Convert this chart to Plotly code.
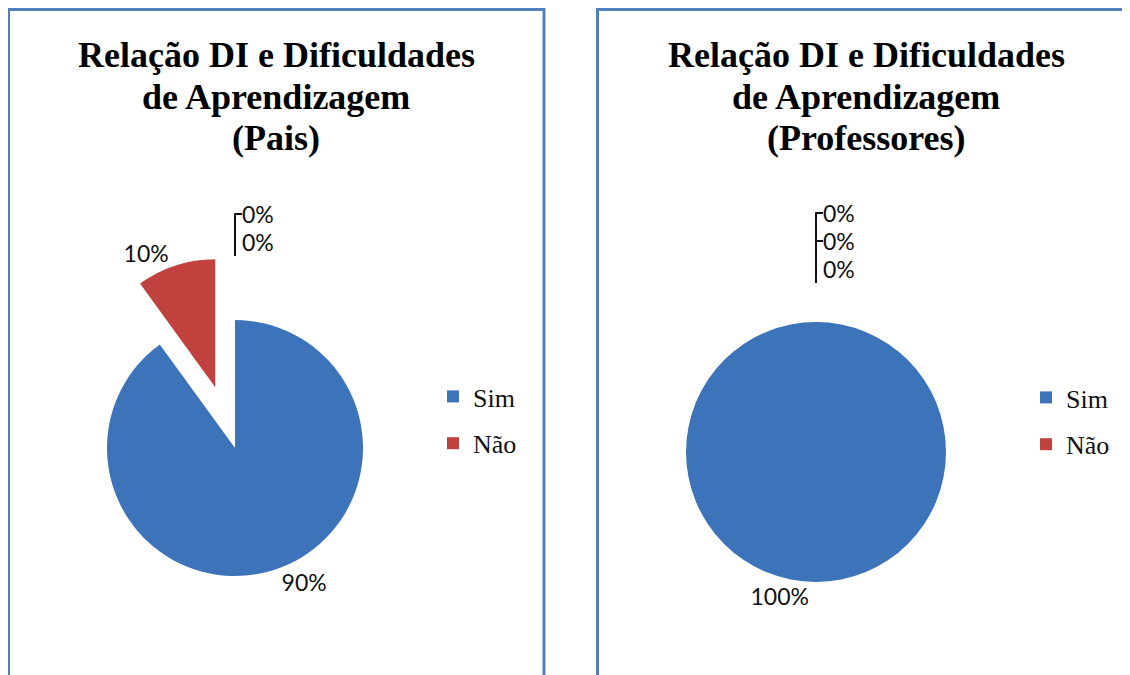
import plotly.graph_objects as go

# ---- data ----
categories = ["Sim", "Não", "(vazio 1)", "(vazio 2)"]
legend_categories = ["Sim", "Não"]
pais_values = [90, 10, 0, 0]
prof_values = [100, 0, 0, 0]
title_pais = ["Relação DI e Dificuldades", "de Aprendizagem", "(Pais)"]
title_prof = ["Relação DI e Dificuldades", "de Aprendizagem", "(Professores)"]

# ---- styles ----
colors = ["#3d73b9", "#c0413d", "#9bbb59", "#8064a2"]
pais_pull = [0, 0.5, 0.5, 0.5]
prof_pull = [0, 0.3, 0.3, 0.3]
border = "#4f81bd"
label_font = dict(family="Lato", size=23, color="#111111")
W, H = 1130, 675
OFF = 8  # page body margin


def px(x):
    return (x - OFF) / W


def py(y):
    return 1 - (y - OFF) / H


fig = go.Figure()

fig.add_trace(go.Pie(
    labels=categories, values=pais_values, sort=False, direction="clockwise",
    rotation=0, pull=pais_pull, marker=dict(colors=colors, line=dict(width=0)),
    texttemplate="%{percent:.0%}", textposition="outside", textfont=label_font,
    showlegend=False, domain=dict(x=[px(43), px(427)], y=[py(640), py(256)]),
))
fig.add_trace(go.Pie(
    labels=categories, values=prof_values, sort=False, direction="clockwise",
    rotation=0, pull=prof_pull, marker=dict(colors=colors, line=dict(width=0)),
    texttemplate="%{percent:.0%}", textposition="outside", textfont=label_font,
    showlegend=False, domain=dict(x=[px(647), px(985)], y=[py(621), py(283)]),
))

# legend entries (only the named categories)
for lg in ["legend", "legend2"]:
    for name, col in zip(legend_categories, colors):
        fig.add_trace(go.Scatter(
            x=[None], y=[None], mode="markers", name=name, legend=lg,
            legendgroup=lg + name,
            marker=dict(symbol="square", size=12, color=col),
        ))

legend_common = dict(font=dict(family="Liberation Serif", size=26, color="#111"),
                     bgcolor="rgba(0,0,0,0)", tracegroupgap=10, traceorder="grouped",
                     yanchor="middle", xanchor="left", itemwidth=30)

title_font = dict(family="Liberation Serif", size=36, color="black")
annotations = []
for cx, lines in [(276, title_pais), (866, title_prof)]:
    for ly, line in zip([55, 97, 138], lines):
        annotations.append(dict(
            text="<b>" + line + "</b>", x=px(cx), y=py(ly), xref="paper", yref="paper",
            showarrow=False, xanchor="center", yanchor="middle", font=title_font))

fig.update_layout(
    width=W, height=H, margin=dict(l=0, r=0, t=0, b=0, autoexpand=False),
    paper_bgcolor="white", plot_bgcolor="white",
    xaxis=dict(visible=False), yaxis=dict(visible=False),
    legend=dict(x=px(433), y=py(420), **legend_common),
    legend2=dict(x=px(1026), y=py(421), **legend_common),
    annotations=annotations,
    shapes=[
        dict(type="path", xref="paper", yref="paper",
             path=f"M {px(8.5)},0 L {px(8.5)},{py(9.5)} L {px(544)},{py(9.5)} L {px(544)},0",
             line=dict(color=border, width=3)),
        dict(type="path", xref="paper", yref="paper",
             path=f"M {px(597.5)},0 L {px(597.5)},{py(9.5)} L 1.01,{py(9.5)}",
             line=dict(color=border, width=3)),
    ],
)

fig.write_html("out.html")
